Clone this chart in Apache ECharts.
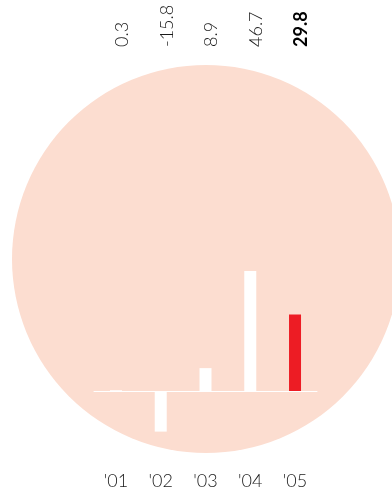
<!DOCTYPE html>
<html>
<head>
<meta charset="utf-8">
<script src="https://cdn.jsdelivr.net/npm/echarts@6/dist/echarts.min.js"></script>
<style>
  html, body { margin: 0; padding: 0; background: #fff; }
  #chart { width: 392px; height: 493px; }
</style>
</head>
<body>
<div id="chart"></div>
<script>
// Annual change, per cent
const years = ["'01", "'02", "'03", "'04", "'05"];
const values = [0.3, -15.8, 8.9, 46.7, 29.8];
const valueLabels = ['0.3', '-15.8', '8.9', '46.7', '29.8'];

const FONT = 'Lato, "DejaVu Sans", sans-serif';
const TEXT = '#1a1a1a';
const BAR = '#ffffff';
const HIGHLIGHT = '#ed1c24';

const chart = echarts.init(document.getElementById('chart'), null, { renderer: 'canvas' });

const gridTop = 262.5;
const gridBottom = 50.6;

chart.setOption({
  animation: false,
  backgroundColor: '#ffffff',
  graphic: [{
    type: 'circle',
    z: -10,
    shape: { cx: 206, cy: 259, r: 194 },
    style: { fill: '#fcddd0' },
    silent: true
  }],
  grid: [
    { left: 93.6, right: 74.6, top: gridTop, bottom: gridBottom, outerBoundsMode: 'none', containLabel: false },
    { left: 99.6, right: 68.6, top: gridTop, bottom: gridBottom, outerBoundsMode: 'none', containLabel: false }
  ],
  xAxis: [{
    type: 'category',
    gridIndex: 0,
    data: years,
    axisLine: { show: false, onZero: false },
    axisTick: { show: false },
    axisLabel: {
      margin: 30,
      fontFamily: FONT,
      fontWeight: 300,
      fontSize: 18,
      color: TEXT
    }
  }, {
    type: 'category',
    gridIndex: 1,
    position: 'top',
    data: valueLabels,
    axisLine: { show: false, onZero: false },
    axisTick: { show: false },
    axisLabel: {
      rotate: -90,
      align: 'left',
      verticalAlign: 'middle',
      margin: 215.5,
      fontFamily: FONT,
      fontWeight: 300,
      fontSize: 18,
      color: TEXT,
      formatter: (v, i) => i === valueLabels.length - 1 ? '{b|' + v + '}' : v,
      rich: { b: { fontFamily: FONT, fontSize: 18, fontWeight: 'bold', color: '#000000' } }
    }
  }],
  yAxis: [{
    type: 'value',
    gridIndex: 0,
    min: -20,
    max: 50,
    show: false,
    splitLine: { show: false }
  }, {
    type: 'value',
    gridIndex: 1,
    min: -20,
    max: 50,
    show: false,
    splitLine: { show: false }
  }],
  series: [{
    type: 'bar',
    xAxisIndex: 0,
    yAxisIndex: 0,
    barWidth: 12,
    data: values.map((v, i) => ({
      value: v,
      itemStyle: { color: i === values.length - 1 ? HIGHLIGHT : BAR }
    })),
    markLine: {
      silent: true,
      symbol: 'none',
      label: { show: false },
      lineStyle: { color: '#ffffff', type: 'solid', width: 1 },
      data: [{ yAxis: 0 }]
    },
    z: 1
  }]
});
</script>
</body>
</html>
